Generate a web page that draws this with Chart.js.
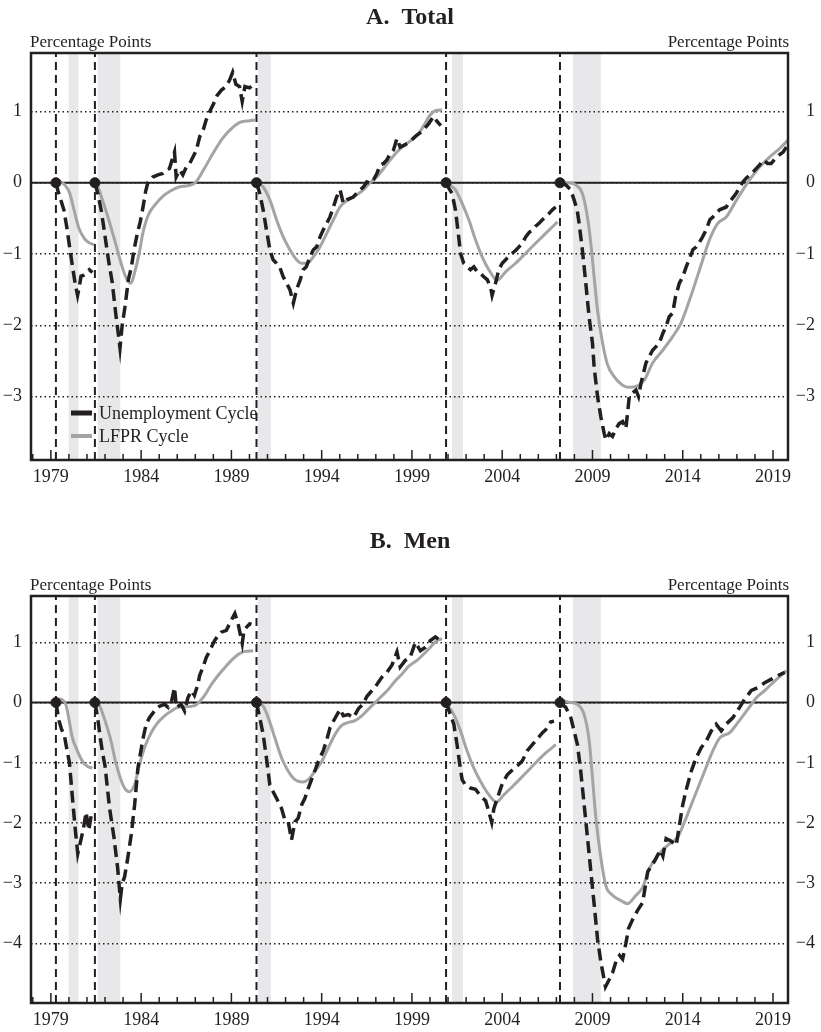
<!DOCTYPE html>
<html>
<head>
<meta charset="utf-8">
<script src="https://cdn.jsdelivr.net/npm/chart.js@4/dist/chart.umd.min.js"></script>
<style>
  body { margin: 0; background: #fff; }
  canvas { display: block; }
</style>
</head>
<body>
<canvas id="chartTotal" width="821" height="495"></canvas>
<canvas id="chartMen" width="821" height="537"></canvas>
<script>
// x axis (years) and cycle markers
const xMin = 1977.9;
const xMax = 2019.83;
const cycleStarts = [1979.28, 1981.44, 1990.39, 2000.89, 2007.2];
const recessions = [[1979.98, 1980.53], [1981.59, 1982.85], [1990.48, 1991.18], [2001.22, 2001.83], [2007.92, 2009.46]];
const firstLabelYear = 1979;

// A. Total -- unemployment cycle, one list per cycle
const totalUnemp = [
  [[1979.28, 0], [1979.4, -0.12], [1979.56, -0.25], [1979.72, -0.38], [1979.88, -0.62], [1980.05, -0.92], [1980.2, -1.18], [1980.35, -1.42], [1980.48, -1.58], [1980.58, -1.45], [1980.67, -1.31], [1980.8, -1.3], [1980.95, -1.27], [1981.13, -1.22], [1981.3, -1.26]],
  [[1981.44, 0], [1981.6, -0.15], [1981.8, -0.4], [1982.0, -0.75], [1982.2, -1.1], [1982.4, -1.4], [1982.6, -1.85], [1982.75, -2.15], [1982.83, -2.32], [1982.95, -2.0], [1983.1, -1.75], [1983.3, -1.35], [1983.45, -1.2], [1983.6, -0.95], [1983.8, -0.7], [1983.95, -0.55], [1984.1, -0.35], [1984.25, -0.12], [1984.37, 0.0], [1984.65, 0.08], [1984.93, 0.11], [1985.2, 0.13], [1985.4, 0.18], [1985.57, 0.2], [1985.85, 0.43], [1985.94, 0.08], [1986.13, 0.18], [1986.31, 0.11], [1986.5, 0.22], [1986.69, 0.27], [1986.87, 0.36], [1987.05, 0.45], [1987.25, 0.65], [1987.45, 0.75], [1987.6, 0.88], [1987.8, 1.0], [1988.0, 1.1], [1988.2, 1.22], [1988.45, 1.3], [1988.7, 1.35], [1988.9, 1.44], [1989.07, 1.55], [1989.25, 1.38], [1989.45, 1.35], [1989.6, 1.14], [1989.75, 1.35], [1990.0, 1.33], [1990.2, 1.37]],
  [[1990.39, 0], [1990.57, -0.15], [1990.76, -0.38], [1990.94, -0.66], [1991.13, -0.94], [1991.31, -1.08], [1991.5, -1.13], [1991.7, -1.2], [1991.87, -1.32], [1992.06, -1.41], [1992.24, -1.5], [1992.43, -1.69], [1992.61, -1.5], [1992.8, -1.37], [1992.98, -1.22], [1993.15, -1.18], [1993.35, -1.04], [1993.54, -0.94], [1993.72, -0.9], [1993.91, -0.76], [1994.09, -0.66], [1994.28, -0.57], [1994.46, -0.48], [1994.65, -0.34], [1994.83, -0.2], [1995.02, -0.1], [1995.2, -0.29], [1995.4, -0.24], [1995.57, -0.22], [1995.75, -0.2], [1995.94, -0.15], [1996.12, -0.1], [1996.31, -0.06], [1996.5, 0.01], [1996.7, -0.01], [1996.87, 0.04], [1997.06, 0.13], [1997.24, 0.25], [1997.43, 0.27], [1997.61, 0.32], [1997.8, 0.41], [1997.98, 0.46], [1998.17, 0.62], [1998.35, 0.5], [1998.6, 0.53], [1998.9, 0.58], [1999.19, 0.65], [1999.56, 0.72], [1999.93, 0.83], [2000.2, 0.93], [2000.39, 0.86], [2000.6, 0.8]],
  [[2000.89, 0], [2001.05, -0.08], [2001.22, -0.15], [2001.41, -0.38], [2001.59, -0.76], [2001.69, -0.99], [2001.87, -1.13], [2002.06, -1.18], [2002.24, -1.22], [2002.43, -1.18], [2002.61, -1.25], [2002.8, -1.27], [2002.98, -1.32], [2003.17, -1.36], [2003.35, -1.46], [2003.44, -1.58], [2003.63, -1.41], [2003.81, -1.22], [2004.0, -1.13], [2004.19, -1.08], [2004.37, -1.03], [2004.56, -0.99], [2004.74, -0.95], [2004.93, -0.9], [2005.11, -0.85], [2005.3, -0.76], [2005.48, -0.7], [2005.67, -0.66], [2005.85, -0.61], [2006.04, -0.57], [2006.22, -0.52], [2006.41, -0.48], [2006.6, -0.43], [2006.78, -0.38], [2006.96, -0.34]],
  [[2007.2, 0], [2007.52, -0.03], [2007.8, -0.1], [2007.98, -0.24], [2008.15, -0.38], [2008.26, -0.57], [2008.44, -0.94], [2008.63, -1.41], [2008.81, -1.88], [2009.0, -2.25], [2009.09, -2.58], [2009.28, -3.0], [2009.46, -3.28], [2009.65, -3.52], [2009.74, -3.61], [2009.93, -3.52], [2010.11, -3.56], [2010.3, -3.45], [2010.48, -3.38], [2010.67, -3.35], [2010.85, -3.45], [2011.04, -3.0], [2011.2, -2.95], [2011.41, -2.91], [2011.55, -3.0], [2011.69, -2.81], [2011.96, -2.53], [2012.33, -2.35], [2012.7, -2.25], [2012.9, -2.11], [2013.07, -2.02], [2013.25, -1.88], [2013.44, -1.83], [2013.6, -1.6], [2013.81, -1.41], [2014.0, -1.32], [2014.19, -1.18], [2014.4, -1.05], [2014.56, -0.94], [2014.75, -0.9], [2014.93, -0.83], [2015.1, -0.76], [2015.3, -0.66], [2015.5, -0.52], [2015.67, -0.48], [2015.85, -0.43], [2016.04, -0.38], [2016.41, -0.34], [2016.69, -0.24], [2016.96, -0.15], [2017.15, -0.06], [2017.33, 0.01], [2017.5, 0.06], [2017.89, 0.15], [2018.26, 0.25], [2018.45, 0.32], [2018.7, 0.27], [2018.9, 0.27], [2019.19, 0.36], [2019.56, 0.43], [2019.74, 0.5]]
];

// A. Total -- LFPR cycle
const totalLfpr = [
  [[1979.28, 0], [1979.5, 0.01], [1979.8, -0.04], [1980.05, -0.15], [1980.3, -0.4], [1980.57, -0.65], [1980.85, -0.78], [1981.1, -0.84], [1981.38, -0.87]],
  [[1981.44, 0], [1981.6, -0.05], [1981.8, -0.2], [1982.0, -0.35], [1982.3, -0.6], [1982.55, -0.82], [1982.8, -1.05], [1983.0, -1.22], [1983.2, -1.35], [1983.44, -1.41], [1983.65, -1.25], [1983.9, -0.98], [1984.1, -0.7], [1984.4, -0.45], [1984.8, -0.3], [1985.2, -0.19], [1985.6, -0.12], [1986.1, -0.06], [1986.6, -0.04], [1987.0, 0.0], [1987.5, 0.2], [1988.0, 0.42], [1988.5, 0.62], [1989.0, 0.76], [1989.5, 0.85], [1990.0, 0.87], [1990.3, 0.88]],
  [[1990.39, 0], [1990.57, -0.02], [1990.76, -0.06], [1991.13, -0.24], [1991.5, -0.52], [1991.87, -0.76], [1992.24, -0.94], [1992.61, -1.08], [1992.9, -1.13], [1993.2, -1.13], [1993.54, -1.04], [1993.91, -0.9], [1994.28, -0.71], [1994.65, -0.52], [1995.02, -0.34], [1995.3, -0.27], [1995.75, -0.2], [1996.31, -0.1], [1996.68, 0.0], [1997.06, 0.08], [1997.43, 0.2], [1997.8, 0.32], [1998.17, 0.43], [1998.6, 0.53], [1999.0, 0.6], [1999.37, 0.69], [1999.7, 0.82], [1999.95, 0.93], [2000.3, 1.01], [2000.67, 1.02]],
  [[2000.89, 0], [2001.1, -0.03], [2001.41, -0.1], [2001.78, -0.29], [2002.15, -0.52], [2002.52, -0.8], [2002.89, -1.04], [2003.26, -1.22], [2003.72, -1.37], [2004.19, -1.25], [2004.74, -1.13], [2005.3, -0.99], [2005.85, -0.85], [2006.41, -0.71], [2007.06, -0.55]],
  [[2007.2, 0], [2007.6, 0.0], [2008.07, -0.03], [2008.44, -0.15], [2008.72, -0.48], [2008.91, -0.85], [2009.09, -1.32], [2009.28, -1.79], [2009.56, -2.25], [2009.83, -2.55], [2010.2, -2.72], [2010.67, -2.84], [2011.04, -2.87], [2011.5, -2.85], [2011.87, -2.77], [2012.33, -2.53], [2012.89, -2.35], [2013.44, -2.16], [2013.9, -1.97], [2014.37, -1.65], [2014.74, -1.37], [2015.11, -1.08], [2015.48, -0.8], [2015.94, -0.57], [2016.41, -0.48], [2016.87, -0.29], [2017.33, -0.1], [2017.7, 0.04], [2018.26, 0.22], [2018.81, 0.36], [2019.37, 0.48], [2019.83, 0.6]]
];

// B. Men -- unemployment cycle
const menUnemp = [
  [[1979.28, 0], [1979.45, -0.3], [1979.6, -0.45], [1979.75, -0.55], [1979.9, -0.8], [1980.03, -1.0], [1980.2, -1.6], [1980.35, -2.1], [1980.49, -2.51], [1980.65, -2.3], [1980.8, -2.1], [1980.95, -1.82], [1981.1, -2.12], [1981.25, -1.85]],
  [[1981.44, 0], [1981.59, -0.25], [1981.72, -0.55], [1981.87, -0.85], [1982.0, -1.05], [1982.25, -1.75], [1982.5, -2.25], [1982.7, -2.75], [1982.85, -3.26], [1982.95, -3.0], [1983.08, -2.9], [1983.25, -2.6], [1983.45, -2.2], [1983.64, -1.7], [1983.82, -1.09], [1984.09, -0.62], [1984.28, -0.36], [1984.46, -0.25], [1984.74, -0.14], [1985.02, -0.06], [1985.3, -0.03], [1985.5, -0.08], [1985.67, 0.0], [1985.85, 0.25], [1985.95, -0.08], [1986.22, -0.03], [1986.41, -0.14], [1986.59, 0.08], [1986.78, 0.2], [1986.95, 0.12], [1987.15, 0.31], [1987.24, 0.45], [1987.43, 0.59], [1987.61, 0.75], [1987.8, 0.86], [1988.07, 1.03], [1988.26, 1.11], [1988.44, 1.17], [1988.72, 1.2], [1989.0, 1.37], [1989.19, 1.48], [1989.37, 1.31], [1989.6, 0.98], [1989.7, 1.2], [1989.83, 1.25], [1990.02, 1.31], [1990.11, 1.3]],
  [[1990.39, 0], [1990.57, -0.25], [1990.76, -0.53], [1990.94, -0.92], [1991.13, -1.37], [1991.31, -1.48], [1991.5, -1.59], [1991.78, -1.76], [1991.96, -1.95], [1992.15, -1.98], [1992.33, -2.28], [1992.52, -1.98], [1992.7, -1.92], [1992.89, -1.7], [1993.07, -1.59], [1993.26, -1.42], [1993.54, -1.2], [1993.81, -0.98], [1994.09, -0.8], [1994.28, -0.62], [1994.46, -0.42], [1994.74, -0.26], [1995.02, -0.11], [1995.2, -0.22], [1995.48, -0.2], [1995.76, -0.25], [1996.04, -0.1], [1996.31, -0.02], [1996.5, 0.1], [1996.78, 0.2], [1997.06, 0.3], [1997.33, 0.42], [1997.61, 0.5], [1997.89, 0.62], [1998.17, 0.84], [1998.35, 0.59], [1998.63, 0.7], [1998.9, 0.75], [1999.19, 1.0], [1999.47, 0.86], [1999.75, 0.92], [2000.02, 1.03], [2000.3, 1.09], [2000.58, 1.03]],
  [[2000.89, 0], [2001.13, -0.2], [2001.32, -0.36], [2001.5, -0.7], [2001.65, -1.03], [2001.78, -1.28], [2001.97, -1.37], [2002.24, -1.42], [2002.52, -1.44], [2002.8, -1.55], [2003.08, -1.63], [2003.25, -1.8], [2003.42, -1.99], [2003.54, -1.76], [2003.73, -1.59], [2004.0, -1.35], [2004.28, -1.2], [2004.56, -1.12], [2004.84, -1.05], [2005.11, -0.97], [2005.39, -0.8], [2005.67, -0.7], [2005.95, -0.6], [2006.23, -0.5], [2006.41, -0.45], [2006.69, -0.32], [2006.87, -0.31]],
  [[2007.19, 0], [2007.52, -0.08], [2007.8, -0.25], [2007.98, -0.47], [2008.17, -0.7], [2008.35, -1.14], [2008.54, -1.7], [2008.73, -2.26], [2008.91, -2.81], [2009.1, -3.37], [2009.28, -3.93], [2009.47, -4.32], [2009.72, -4.72], [2009.93, -4.6], [2010.11, -4.49], [2010.3, -4.3], [2010.5, -4.2], [2010.67, -4.26], [2010.85, -4.0], [2011.0, -3.75], [2011.23, -3.6], [2011.5, -3.45], [2011.78, -3.32], [2012.06, -2.81], [2012.3, -2.7], [2012.5, -2.6], [2012.75, -2.45], [2012.9, -2.55], [2013.08, -2.26], [2013.35, -2.3], [2013.64, -2.37], [2013.82, -2.03], [2014.0, -1.7], [2014.19, -1.45], [2014.47, -1.14], [2014.74, -0.92], [2015.02, -0.75], [2015.3, -0.64], [2015.58, -0.47], [2015.85, -0.36], [2016.13, -0.47], [2016.4, -0.36], [2016.78, -0.25], [2017.15, -0.08], [2017.43, 0.06], [2017.8, 0.2], [2018.17, 0.25], [2018.54, 0.33], [2018.91, 0.39], [2019.28, 0.45], [2019.65, 0.5]]
];

// B. Men -- LFPR cycle
const menLfpr = [
  [[1979.28, 0], [1979.45, 0.06], [1979.6, 0.05], [1979.83, -0.03], [1980.02, -0.31], [1980.2, -0.59], [1980.48, -0.81], [1980.76, -0.98], [1981.04, -1.06], [1981.3, -1.09]],
  [[1981.44, 0], [1981.69, -0.05], [1982.0, -0.3], [1982.3, -0.6], [1982.6, -1.0], [1982.9, -1.3], [1983.1, -1.43], [1983.35, -1.48], [1983.63, -1.37], [1983.91, -1.03], [1984.19, -0.75], [1984.56, -0.5], [1984.93, -0.33], [1985.3, -0.22], [1985.67, -0.14], [1986.04, -0.08], [1986.41, -0.07], [1986.97, -0.05], [1987.52, 0.12], [1987.89, 0.3], [1988.26, 0.45], [1988.63, 0.58], [1989.0, 0.7], [1989.37, 0.8], [1989.74, 0.85], [1990.2, 0.86]],
  [[1990.39, 0], [1990.76, -0.06], [1991.04, -0.25], [1991.41, -0.59], [1991.78, -0.92], [1992.15, -1.14], [1992.52, -1.28], [1992.95, -1.32], [1993.26, -1.28], [1993.63, -1.14], [1994.0, -0.98], [1994.37, -0.75], [1994.74, -0.53], [1995.11, -0.38], [1995.48, -0.33], [1995.85, -0.3], [1996.22, -0.22], [1996.59, -0.11], [1996.96, 0.0], [1997.33, 0.11], [1997.7, 0.22], [1998.07, 0.36], [1998.44, 0.47], [1998.81, 0.6], [1999.28, 0.7], [1999.84, 0.86], [2000.39, 1.03], [2000.67, 1.06]],
  [[2000.89, 0], [2001.32, -0.2], [2001.69, -0.47], [2002.06, -0.81], [2002.43, -1.09], [2002.8, -1.31], [2003.26, -1.53], [2003.68, -1.65], [2004.1, -1.53], [2004.65, -1.37], [2005.21, -1.2], [2005.76, -1.03], [2006.32, -0.86], [2006.97, -0.7]],
  [[2007.19, 0], [2007.45, 0.02], [2007.8, 0.0], [2008.17, -0.03], [2008.54, -0.2], [2008.82, -0.64], [2009.0, -1.25], [2009.19, -1.92], [2009.47, -2.59], [2009.74, -3.04], [2010.11, -3.2], [2010.58, -3.29], [2010.95, -3.34], [2011.41, -3.2], [2011.78, -3.07], [2012.15, -2.76], [2012.61, -2.54], [2013.17, -2.37], [2013.73, -2.23], [2014.1, -1.98], [2014.47, -1.7], [2014.84, -1.42], [2015.21, -1.14], [2015.58, -0.86], [2016.04, -0.59], [2016.6, -0.5], [2017.06, -0.33], [2017.61, -0.11], [2018.08, 0.08], [2018.54, 0.2], [2019.1, 0.36], [2019.74, 0.53]]
];

const serif = '"Liberation Serif", "DejaVu Serif", serif';
const ink = '#231f20';
const lfprGray = '#a4a4a4';

// join the cycle lists, with a null point so the line breaks between cycles
function toPoints(segments) {
  const pts = [];
  segments.forEach((seg, i) => {
    if (i > 0) pts.push({ x: seg[0][0] - 0.001, y: null });
    seg.forEach(p => pts.push({ x: p[0], y: p[1] }));
  });
  return pts;
}

function verticalLines(yMin, yMax) {
  const pts = [];
  cycleStarts.forEach(c => {
    pts.push({ x: c, y: yMin }, { x: c, y: yMax }, { x: c + 0.001, y: null });
  });
  return pts;
}

function tickLabel(v) {
  if (v === 0) return '0';
  return v < 0 ? '\u2212' + Math.abs(v) : String(v);
}

const decorPlugin = {
  id: 'panelDecor',
  beforeDraw(chart) {
    const { ctx, chartArea: a, scales: { x } } = chart;
    ctx.save();
    ctx.fillStyle = '#e8e8ea';
    recessions.forEach(r => {
      const x1 = x.getPixelForValue(r[0]);
      const x2 = x.getPixelForValue(r[1]);
      ctx.fillRect(x1, a.top, x2 - x1, a.bottom - a.top);
    });
    ctx.restore();
  },
  afterDraw(chart, args, opts) {
    const { ctx, chartArea: a, scales: { x } } = chart;
    ctx.save();
    ctx.strokeStyle = ink;
    ctx.fillStyle = ink;

    // inward tick marks on the year axis
    ctx.lineWidth = 1.5;
    x.ticks.forEach(t => {
      const px = x.getPixelForValue(t.value);
      const major = (Math.round(t.value) - firstLabelYear) % 5 === 0;
      ctx.beginPath();
      ctx.moveTo(px, a.bottom);
      ctx.lineTo(px, a.bottom - (major ? 10 : 6));
      ctx.stroke();
    });

    // frame
    ctx.lineWidth = 2.5;
    ctx.strokeRect(a.left, a.top, a.right - a.left, a.bottom - a.top);

    // titles
    ctx.font = 'bold 24px ' + serif;
    ctx.textAlign = 'center';
    ctx.textBaseline = 'alphabetic';
    ctx.fillText(opts.title, 410, opts.titleY);
    ctx.font = '17px ' + serif;
    ctx.textAlign = 'left';
    ctx.fillText('Percentage Points', a.left - 1, a.top - 6);
    ctx.textAlign = 'right';
    ctx.fillText('Percentage Points', a.right + 1, a.top - 6);

    if (opts.legend) {
      const lx = a.left + 40;
      const rows = [
        { text: 'Unemployment Cycle', color: ink, width: 5, y: a.bottom - 47 },
        { text: 'LFPR Cycle', color: lfprGray, width: 4, y: a.bottom - 24 }
      ];
      rows.forEach(r => {
        ctx.strokeStyle = r.color;
        ctx.lineWidth = r.width;
        ctx.beginPath();
        ctx.moveTo(lx, r.y);
        ctx.lineTo(lx + 21, r.y);
        ctx.stroke();
        ctx.font = '18px ' + serif;
        ctx.textAlign = 'left';
        ctx.textBaseline = 'middle';
        ctx.fillStyle = ink;
        ctx.fillText(r.text, lx + 28, r.y + 1);
      });
    }
    ctx.restore();
  }
};

function makePanel(canvasId, title, titleY, unemp, lfpr, yMin, yMax, topPad, axisHeight, legend) {
  const ctx = document.getElementById(canvasId).getContext('2d');
  const yTicks = {
    stepSize: 1,
    includeBounds: false,
    color: ink,
    font: { family: serif, size: 18 },
    callback: v => tickLabel(v)
  };

  new Chart(ctx, {
    type: 'line',
    data: {
      datasets: [
        {
          label: 'Unemployment Cycle',
          data: toPoints(unemp),
          borderColor: ink,
          borderWidth: 3.5,
          borderDash: [12, 6],
          pointRadius: 0,
          tension: 0,
          order: 2
        },
        {
          label: 'LFPR Cycle',
          data: toPoints(lfpr),
          borderColor: lfprGray,
          borderWidth: 3,
          pointRadius: 0,
          cubicInterpolationMode: 'monotone',
          order: 3
        },
        {
          label: 'zero',
          data: [{ x: xMin, y: 0 }, { x: xMax, y: 0 }],
          borderColor: ink,
          borderWidth: 2,
          pointRadius: 0,
          order: 5
        },
        {
          label: 'cycle start',
          data: verticalLines(yMin, yMax),
          borderColor: ink,
          borderWidth: 2,
          borderDash: [8, 5],
          pointRadius: 0,
          order: 4
        },
        {
          label: 'markers',
          data: cycleStarts.map(c => ({ x: c, y: 0 })),
          showLine: false,
          pointRadius: 5,
          pointBackgroundColor: ink,
          pointBorderColor: ink,
          order: 1
        }
      ]
    },
    options: {
      responsive: false,
      animation: false,
      devicePixelRatio: 1,
      events: [],
      layout: { padding: { top: topPad, right: 6, left: 0, bottom: 0 } },
      plugins: {
        legend: { display: false },
        tooltip: { enabled: false },
        panelDecor: { title, titleY, legend }
      },
      scales: {
        x: {
          type: 'linear',
          min: xMin,
          max: xMax,
          border: { display: false },
          grid: { drawOnChartArea: false, drawTicks: false },
          ticks: {
            stepSize: 1,
            includeBounds: false,
            autoSkip: false,
            maxRotation: 0,
            padding: 6,
            color: ink,
            font: { family: serif, size: 18 },
            callback: v => ((Math.round(v) - firstLabelYear) % 5 === 0 ? String(Math.round(v)) : '')
          },
          afterFit: s => { s.height = axisHeight; }
        },
        y: {
          position: 'left',
          min: yMin,
          max: yMax,
          border: { display: false, dash: [1.5, 3] },
          grid: { color: ink, lineWidth: 1.5, drawTicks: false },
          ticks: Object.assign({ padding: 9 }, yTicks),
          afterFit: s => { s.width = 31; }
        },
        y2: {
          position: 'right',
          min: yMin,
          max: yMax,
          border: { display: false },
          grid: { display: false, drawTicks: false },
          ticks: Object.assign({ padding: 6, crossAlign: 'far' }, yTicks),
          afterFit: s => { s.width = 27; }
        }
      }
    },
    plugins: [decorPlugin]
  });
}

makePanel('chartTotal', 'A.  Total', 24, totalUnemp, totalLfpr, -3.89, 1.82, 53, 35, true);
makePanel('chartMen', 'B.  Men', 53, menUnemp, menLfpr, -4.99, 1.77, 101, 29, false);
</script>
</body>
</html>
